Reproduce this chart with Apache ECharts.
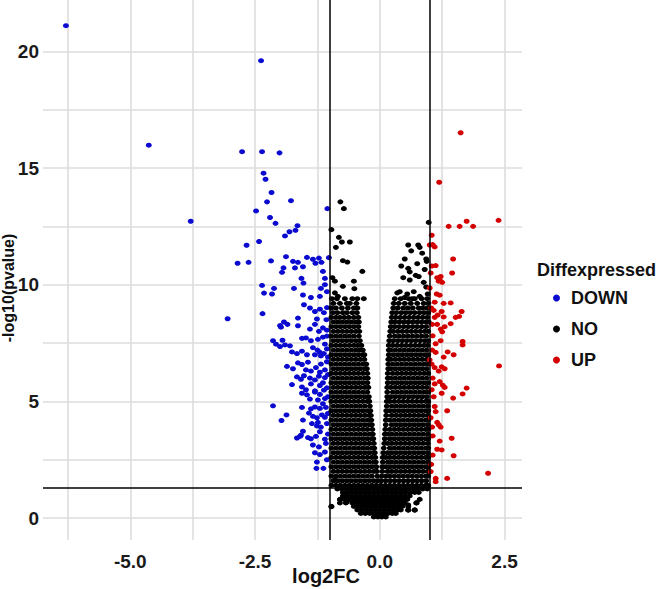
<!DOCTYPE html>
<html>
<head>
<meta charset="utf-8">
<script src="https://cdn.jsdelivr.net/npm/echarts@6/dist/echarts.min.js"></script>
<style>
html,body{margin:0;padding:0;background:#fff;}
#chart{width:661px;height:589px;}
</style>
</head>
<body>
<div id="chart"></div>
<script>
// ---- axis / tick values ----
const xTickLabels = [-5, -2.5, 0, 2.5];
const yTickLabels = [0, 5, 10, 15, 20];
const xGridValues = [-6.25, -5, -3.75, -2.5, -1.25, 0, 1.25, 2.5];
const yGridValues = [0, 2.5, 5, 7.5, 10, 12.5, 15, 17.5, 20];
const fcCutoffs = [-1, 1];
const pCutoff = 1.30;
const categories = ['DOWN', 'NO', 'UP'];

// ---- DOWN (blue) points [log2FC, -log10(p)] ----
const downPoints = [
[-6.29,21.1],[-2.38,19.6],[-4.63,15.98],[-2.76,15.7],[-2.36,15.7],[-2.01,15.65],[-2.33,14.78],[-2.29,14.52],
[-2.17,13.95],[-2.26,13.55],[-1.78,13.6],[-2.48,13.16],[-3.79,12.72],[-2.2,12.88],[-2.09,12.63],[-1.05,13.26],
[-1.65,12.53],[-1.69,12.33],[-1.81,12.27],[-1.9,12.09],[-2.67,11.69],[-2.42,11.85],[-2.85,10.92],[-2.63,10.96],
[-2.18,11.02],[-1.88,11.2],[-1.74,11.0],[-1.64,10.96],[-1.46,11.17],[-1.34,11.09],[-1.22,11.14],[-1.29,10.92],
[-1.17,10.96],[-1.02,11.16],[-1.93,10.72],[-1.7,10.72],[-1.54,10.77],[-1.96,10.53],[-1.14,10.57],[-1.57,10.27],
[-1.1,10.27],[-1.53,10.07],[-2.36,9.97],[-2.12,9.84],[-1.72,9.84],[-1.18,9.84],[-2.32,9.64],[-2.16,9.6],
[-1.54,9.56],[-1.38,9.45],[-1.2,9.5],[-1.06,9.7],[-1.1,10.0],
[-2.35,8.76],[-3.05,8.54],[-1.52,9.14],[-1.4,9.0],[-1.3,8.85],[-1.2,8.95],[-1.12,8.8],[-1.06,9.02],[-1.64,8.57],
[-1.26,8.53],[-1.07,8.5],[-2.0,8.25],[-1.92,8.4],[-1.85,8.3],[-1.98,8.18],[-1.64,8.24],[-1.4,8.1],[-1.22,8.0],
[-1.14,8.15],[-1.06,8.05],[-1.3,8.3],
[-2.14,7.6],[-1.95,7.62],[-2.08,7.45],[-2.0,7.35],[-1.9,7.42],[-1.8,7.38],[-1.56,7.7],[-1.48,7.72],[-1.38,7.6],
[-1.24,7.66],[-1.14,7.75],[-1.06,7.8],[-1.34,7.3],[-1.25,7.2],[-1.2,7.1],[-1.3,7.0],[-1.18,6.95],[-1.12,7.05],
[-1.06,7.25],[-1.76,7.12],[-1.66,7.05],[-1.56,7.15],[-1.46,7.0],[-1.1,7.45],[-1.04,6.9],
[-1.86,6.5],[-1.74,6.4],[-1.64,6.65],[-1.56,6.58],[-1.44,6.68],[-1.48,6.35],[-1.38,6.3],[-1.28,6.45],[-1.18,6.6],
[-1.06,6.7],[-1.1,6.35],[-1.2,6.25],
[-1.66,6.05],[-1.58,5.95],[-1.52,6.1],[-1.4,6.0],[-1.3,5.92],[-1.22,6.08],[-1.1,6.02],[-1.04,6.15],
[-1.76,5.72],[-1.56,5.62],[-1.48,5.5],[-1.38,5.75],[-1.3,5.45],[-1.2,5.68],[-1.06,5.58],[-1.14,5.8],
[-1.56,5.35],[-1.46,5.28],[-1.4,5.1],[-1.3,5.4],[-1.2,5.3],[-1.12,5.48],[-1.04,5.2],[-1.24,5.06],[-1.1,5.12],
[-2.14,4.81],[-1.56,4.74],[-1.38,4.68],[-1.3,4.76],[-1.2,4.7],[-1.08,4.74],[-1.14,4.9],
[-1.42,4.5],[-1.34,4.36],[-1.26,4.3],[-1.16,4.42],[-1.1,4.32],[-1.04,4.48],[-1.87,4.42],[-1.97,4.18],[-1.54,4.2],
[-1.36,4.05],[-1.26,3.95],[-1.18,3.9],[-1.24,4.1],[-1.06,4.05],
[-1.54,3.72],[-1.58,3.55],[-1.66,3.43],[-1.6,3.5],[-1.44,3.45],[-1.38,3.4],[-1.28,3.5],[-1.2,3.7],[-1.1,3.38],[-1.04,3.6],
[-1.34,3.13],[-1.22,3.05],[-1.08,3.2],[-1.3,2.8],[-1.2,2.72],[-1.1,2.83],[-1.26,2.4],[-1.06,2.5],[-1.27,2.13],[-1.13,2.13]
];

// ---- UP (red) points ----
const upPoints = [
[1.62,16.51],[1.19,14.39],[1.38,12.5],[1.6,12.5],[1.74,12.72],[1.87,12.5],[2.38,12.76],[1.04,12.12],[1.0,11.7],
[1.1,11.62],[1.06,11.72],[1.47,11.1],[1.04,10.8],[1.12,10.82],[1.45,10.5],[1.15,10.3],[1.2,10.2],[1.25,10.1],
[1.18,10.15],[1.22,10.35],[1.0,9.86],[1.14,9.6],[1.2,9.55],[1.28,9.2],[1.42,9.22],[1.1,9.25],[1.64,8.85],[1.59,8.64],
[1.24,8.85],[1.16,8.7],[1.28,8.62],[1.1,8.6],[1.52,8.6],[1.05,8.3],[1.15,8.3],[1.22,8.1],[1.3,8.2],[1.42,8.33],
[1.25,7.98],[1.06,7.81],[1.12,7.47],[1.22,7.6],[1.66,7.57],[1.66,7.42],[1.12,7.1],[1.28,6.9],[1.36,7.12],[1.48,7.0],
[1.0,6.78],[2.39,6.52],[1.1,6.45],[1.18,6.3],[1.3,6.4],[1.24,6.48],[1.06,6.0],[1.1,5.75],[1.2,5.85],[1.3,5.6],
[1.26,5.7],[1.74,5.57],[1.66,5.32],[1.47,5.14],[1.24,5.35],[1.08,5.2],[1.1,4.78],[1.12,4.56],[1.35,4.6],[1.15,4.1],
[1.22,3.9],[1.18,4.0],[1.06,3.52],[1.44,3.42],[1.2,3.3],[1.15,2.95],[1.24,2.92],[1.48,2.67],[1.06,2.7],[1.02,1.99],
[2.17,1.92],[1.12,1.7],[1.12,1.56],[1.35,1.7],[1.03,9.0],[1.05,7.2],[1.04,5.5],[1.02,4.3],[1.05,3.9],[1.03,2.3],
[1.08,8.9],[1.02,10.5],[1.04,6.6]
];

// ---- NO (black) points: dense cloud, rows of [-log10(p), [log2FC ...]] ----
const noRows = [
[0.05,[-0.12,-0.04,0.04,0.12]],
[0.2,[-0.38,-0.29,-0.2,-0.11,-0.02,0.07,0.16,0.25,0.32]],
[0.35,[-0.45,-0.36,-0.27,-0.18,-0.09,0,0.09,0.18,0.27,0.36,0.42,0.57,0.7]],
[0.5,[-0.97,-0.52,-0.43,-0.34,-0.25,-0.16,-0.07,0.02,0.11,0.2,0.29,0.38,0.45,0.57]],
[0.65,[-0.8,-0.68,-0.55,-0.46,-0.37,-0.28,-0.19,-0.1,-0.01,0.08,0.17,0.26,0.35,0.44,0.5,0.73]],
[0.8,[-0.79,-0.71,-0.6,-0.51,-0.42,-0.33,-0.24,-0.15,-0.06,0.03,0.12,0.21,0.3,0.39,0.48,0.55,0.8]],
[0.95,[-0.74,-0.66,-0.57,-0.48,-0.39,-0.3,-0.21,-0.12,-0.03,0.06,0.15,0.24,0.33,0.42,0.51,0.6]],
[1.1,[-0.74,-0.65,-0.56,-0.47,-0.38,-0.29,-0.2,-0.11,-0.02,0.07,0.16,0.25,0.34,0.43,0.52,0.61,0.7,0.78]],
[1.25,[-0.85,-0.76,-0.67,-0.58,-0.49,-0.4,-0.31,-0.22,-0.13,-0.04,0.05,0.14,0.23,0.32,0.41,0.5,0.59,0.68,0.77,0.86,0.95]],
[1.4,[-0.97,-0.88,-0.79,-0.7,-0.61,-0.52,-0.43,-0.34,-0.25,-0.16,-0.07,0.02,0.11,0.2,0.29,0.38,0.47,0.56,0.65,0.74,0.83,0.92,0.97]],
[1.6,[-0.93,-0.84,-0.75,-0.66,-0.57,-0.48,-0.39,-0.3,-0.21,-0.12,-0.04,0.03,0.12,0.21,0.3,0.39,0.48,0.57,0.66,0.75,0.84,0.93]],
[1.8,[-0.97,-0.88,-0.79,-0.7,-0.61,-0.52,-0.43,-0.34,-0.25,-0.16,-0.05,0.04,0.12,0.2,0.29,0.38,0.47,0.56,0.65,0.74,0.83,0.92,0.97]],
[2.0,[-0.93,-0.84,-0.75,-0.66,-0.57,-0.48,-0.39,-0.3,-0.21,-0.12,-0.06,0.05,0.16,0.24,0.33,0.42,0.51,0.6,0.69,0.78,0.87,0.96]],
[2.2,[-0.97,-0.88,-0.79,-0.7,-0.61,-0.52,-0.43,-0.34,-0.25,-0.16,-0.07,0.05,0.12,0.2,0.29,0.38,0.47,0.56,0.65,0.74,0.83,0.92,0.97]],
[2.4,[-0.93,-0.84,-0.75,-0.66,-0.57,-0.48,-0.39,-0.3,-0.21,-0.12,-0.08,0.06,0.16,0.24,0.33,0.42,0.51,0.6,0.69,0.78,0.87,0.96]],
[2.6,[-0.97,-0.88,-0.79,-0.7,-0.61,-0.52,-0.43,-0.34,-0.25,-0.16,-0.09,0.06,0.12,0.2,0.29,0.38,0.47,0.56,0.65,0.74,0.83,0.92,0.97]],
[2.8,[-0.93,-0.84,-0.75,-0.66,-0.57,-0.48,-0.39,-0.3,-0.21,-0.12,-0.1,0.07,0.16,0.24,0.33,0.42,0.51,0.6,0.69,0.78,0.87,0.96]],
[3.0,[-0.97,-0.88,-0.79,-0.7,-0.61,-0.52,-0.43,-0.34,-0.25,-0.16,-0.11,0.08,0.2,0.29,0.38,0.47,0.56,0.65,0.74,0.83,0.92,0.97]],
[3.2,[-0.93,-0.84,-0.75,-0.66,-0.57,-0.48,-0.39,-0.3,-0.21,-0.12,0.09,0.16,0.24,0.33,0.42,0.51,0.6,0.69,0.78,0.87,0.96]],
[3.4,[-0.97,-0.88,-0.79,-0.7,-0.61,-0.52,-0.43,-0.34,-0.25,-0.16,-0.13,0.1,0.2,0.29,0.38,0.47,0.56,0.65,0.74,0.83,0.92,0.97]],
[3.6,[-0.93,-0.84,-0.75,-0.66,-0.57,-0.48,-0.39,-0.3,-0.21,-0.14,0.1,0.16,0.24,0.33,0.42,0.51,0.6,0.69,0.78,0.87,0.96]],
[3.8,[-0.97,-0.88,-0.79,-0.7,-0.61,-0.52,-0.43,-0.34,-0.25,-0.15,0.11,0.2,0.29,0.38,0.47,0.56,0.65,0.74,0.83,0.92,0.97]],
[4.0,[-0.93,-0.84,-0.75,-0.66,-0.57,-0.48,-0.39,-0.3,-0.21,-0.16,0.12,0.24,0.33,0.42,0.51,0.6,0.69,0.78,0.87,0.96]],
[4.2,[-0.97,-0.88,-0.79,-0.7,-0.61,-0.52,-0.43,-0.34,-0.25,-0.17,0.12,0.2,0.29,0.38,0.47,0.56,0.65,0.74,0.83,0.92,0.97]],
[4.4,[-0.93,-0.84,-0.75,-0.66,-0.57,-0.48,-0.39,-0.3,-0.21,-0.18,0.13,0.24,0.33,0.42,0.51,0.6,0.69,0.78,0.87,0.96]],
[4.6,[-0.97,-0.88,-0.79,-0.7,-0.61,-0.52,-0.43,-0.34,-0.25,-0.19,0.13,0.2,0.29,0.38,0.47,0.56,0.65,0.74,0.83,0.92,0.97]],
[4.8,[-0.93,-0.84,-0.75,-0.66,-0.57,-0.48,-0.39,-0.3,-0.2,0.14,0.24,0.33,0.42,0.51,0.6,0.69,0.78,0.87,0.96]],
[5.0,[-0.97,-0.88,-0.79,-0.7,-0.61,-0.52,-0.43,-0.34,-0.25,-0.21,0.14,0.2,0.29,0.38,0.47,0.56,0.65,0.74,0.83,0.92,0.97]],
[5.2,[-0.93,-0.84,-0.75,-0.66,-0.57,-0.48,-0.39,-0.3,-0.22,0.15,0.22,0.31,0.4,0.49,0.58,0.67,0.76,0.85,0.94]],
[5.4,[-0.97,-0.88,-0.79,-0.7,-0.61,-0.52,-0.43,-0.34,-0.25,0.15,0.26,0.35,0.44,0.53,0.62,0.71,0.8,0.89,0.97]],
[5.6,[-0.93,-0.84,-0.75,-0.66,-0.57,-0.48,-0.39,-0.3,-0.23,0.15,0.22,0.31,0.4,0.49,0.58,0.67,0.76,0.85,0.94]],
[5.8,[-0.97,-0.88,-0.79,-0.7,-0.61,-0.52,-0.43,-0.34,-0.25,0.16,0.26,0.35,0.44,0.53,0.62,0.71,0.8,0.89,0.97]],
[6.0,[-0.93,-0.84,-0.75,-0.66,-0.57,-0.48,-0.39,-0.3,-0.24,0.16,0.22,0.31,0.4,0.49,0.58,0.67,0.76,0.85,0.94]],
[6.2,[-0.97,-0.88,-0.79,-0.7,-0.61,-0.52,-0.43,-0.34,-0.25,0.16,0.26,0.35,0.44,0.53,0.62,0.71,0.8,0.89,0.97]],
[6.4,[-0.93,-0.84,-0.75,-0.66,-0.57,-0.48,-0.39,-0.3,-0.26,0.17,0.22,0.31,0.4,0.49,0.58,0.67,0.76,0.85,0.94]],
[6.6,[-0.97,-0.88,-0.79,-0.7,-0.61,-0.52,-0.43,-0.34,-0.27,0.17,0.26,0.35,0.44,0.53,0.62,0.71,0.8,0.89,0.97]],
[6.8,[-0.93,-0.84,-0.75,-0.66,-0.57,-0.48,-0.39,-0.31,0.17,0.22,0.31,0.4,0.49,0.58,0.67,0.76,0.85,0.94]],
[7.0,[-0.97,-0.88,-0.79,-0.7,-0.61,-0.52,-0.43,-0.34,-0.31,0.18,0.27,0.36,0.45,0.54,0.63,0.72,0.81,0.9,0.97]],
[7.2,[-0.93,-0.84,-0.75,-0.66,-0.57,-0.48,-0.4,-0.34,0.18,0.22,0.31,0.4,0.49,0.58,0.67,0.76,0.85,0.94]],
[7.4,[-0.97,-0.88,-0.79,-0.7,-0.61,-0.52,-0.44,-0.37,0.18,0.26,0.35,0.44,0.53,0.62,0.71,0.8,0.89,0.96]],
[7.6,[-0.93,-0.84,-0.75,-0.66,-0.57,-0.48,-0.4,0.19,0.27,0.36,0.45,0.54,0.63,0.72,0.81,0.9,0.97]],
[7.8,[-0.97,-0.88,-0.79,-0.7,-0.61,-0.52,-0.42,0.2,0.3,0.39,0.48,0.57,0.66,0.75,0.84,0.93]],
[8.0,[-0.93,-0.84,-0.75,-0.66,-0.57,-0.48,-0.41,0.21,0.27,0.36,0.45,0.54,0.63,0.72,0.81,0.9,0.97]],
[8.2,[-0.97,-0.88,-0.79,-0.7,-0.61,-0.52,-0.43,0.22,0.3,0.39,0.48,0.57,0.66,0.75,0.84,0.93]],
[8.4,[-0.93,-0.84,-0.75,-0.66,-0.57,-0.48,-0.42,0.23,0.3,0.39,0.48,0.57,0.66,0.75,0.84,0.93,0.98]],
[8.6,[-0.97,-0.88,-0.8,-0.71,-0.62,-0.52,-0.43,0.24,0.32,0.41,0.5,0.59,0.68,0.77,0.86,0.95]],
[8.8,[-0.94,-0.85,-0.74,-0.66,-0.55,-0.46,0.25,0.33,0.43,0.52,0.61,0.7,0.8,0.89,0.97]],
[9.0,[-0.97,-0.88,-0.76,-0.64,-0.52,-0.45,0.27,0.36,0.47,0.56,0.66,0.78,0.86,0.95]],
[9.2,[-0.93,-0.8,-0.66,-0.6,-0.47,0.28,0.38,0.5,0.62,0.75,0.88,0.97]],
[9.4,[-0.96,-0.86,-0.7,-0.55,-0.45,0.3,0.42,0.58,0.7,0.84,0.95]]
];
// scattered NO points outside the dense cloud
const noExtra = [
[-0.79,13.55],[-0.72,13.26],[-0.97,12.36],[-0.82,12.03],[-0.76,11.83],[-0.6,11.83],[-0.88,11.6],[-0.74,11.03],
[-0.65,10.97],[-0.35,10.57],[-0.95,10.3],[-0.9,10.15],[-0.74,9.93],[-0.52,10.15],[-0.51,9.83],[-0.9,9.65],
[-0.84,9.5],[-0.32,9.4],
[0.98,12.67],[0.57,11.7],[0.63,11.45],[0.77,11.7],[0.8,11.6],[0.85,11.35],[0.93,11.1],[0.5,11.1],[0.43,10.8],
[0.57,10.7],[0.6,10.55],[0.75,10.9],[0.9,10.65],[0.94,11.0],[0.47,10.3],[0.6,10.2],[0.78,10.35],[0.72,10.4],
[0.88,10.1],[0.4,9.7],[0.55,9.6],[0.68,9.7],[0.8,9.5],[0.96,9.6],[0.35,9.65],[0.5,9.45],[0.65,9.4],[0.93,9.9],
[-0.97,0.49],[-0.8,0.8],[-0.7,0.86],[-0.66,0.7],[-0.9,1.63],[0.57,0.56],[0.7,0.34],[0.57,0.34],[0.74,0.65]
];

// ---- build series data ----
const noPoints = [];
noRows.forEach(function (row) { row[1].forEach(function (x) { noPoints.push([x, row[0]]); }); });
noExtra.forEach(function (p) { noPoints.push(p); });

const FONT = '"Liberation Sans", Arial, sans-serif';
const colors = { DOWN: '#0a0ad0', NO: '#000000', UP: '#d40000' };
const pointSize = [6, 5];

const chart = echarts.init(document.getElementById('chart'), null, { renderer: 'svg' });

const gridLines = [];
xGridValues.forEach(function (v) { gridLines.push({ xAxis: v }); });
yGridValues.forEach(function (v) { gridLines.push({ yAxis: v }); });
const thrLines = [];
fcCutoffs.forEach(function (v) { thrLines.push({ xAxis: v }); });
thrLines.push({ yAxis: pCutoff });

function pointSeries(name, data) {
  return { name: name, type: 'scatter', data: data, z: 3, symbol: 'circle', symbolSize: pointSize,
    itemStyle: { color: colors[name], opacity: 1 } };
}

chart.setOption({
  animation: false,
  backgroundColor: '#ffffff',
  grid: { left: 43, right: 139, top: 0, bottom: 49 },
  xAxis: {
    type: 'value', min: -6.75, max: 2.85,
    axisLine: { show: false }, axisTick: { show: false }, splitLine: { show: false },
    axisLabel: {
      customValues: xTickLabels, margin: 12,
      formatter: function (v) { return Number(v).toFixed(1); },
      fontFamily: FONT, fontWeight: 'bold', fontSize: 19, color: '#1a1a1a'
    }
  },
  yAxis: {
    type: 'value', min: -0.94, max: 22.2,
    axisLine: { show: false }, axisTick: { show: false }, splitLine: { show: false },
    axisLabel: {
      customValues: yTickLabels, margin: 4,
      fontFamily: FONT, fontWeight: 'bold', fontSize: 19, color: '#1a1a1a'
    }
  },
  legend: {
    data: categories, orient: 'vertical', left: 553, top: 288, padding: 0,
    icon: 'circle', itemWidth: 7, itemHeight: 7, itemGap: 11,
    itemStyle: { opacity: 1 },
    textStyle: { fontFamily: FONT, fontWeight: 'bold', fontSize: 18, color: '#111', lineHeight: 20, padding: [0, 0, 0, 6] }
  },
  graphic: [
    { type: 'text', left: 537, top: 261, style: { text: 'Diffexpressed', fontFamily: FONT, fontWeight: 'bold', fontSize: 18, fill: '#111' } },
    { type: 'text', x: 326, y: 576, style: { text: 'log2FC', fontFamily: FONT, fontWeight: 'bold', fontSize: 20, fill: '#111', align: 'center', verticalAlign: 'middle' } },
    { type: 'text', x: 8, y: 288, rotation: Math.PI / 2, style: { text: '-log10(pvalue)', fontFamily: FONT, fontWeight: 'bold', fontSize: 16, fill: '#111', align: 'center', verticalAlign: 'middle' } }
  ],
  series: [
    {
      name: 'gridlines', type: 'scatter', data: [], z: 1, silent: true,
      markLine: { z: 1, silent: true, symbol: ['none', 'none'], label: { show: false },
        lineStyle: { color: '#dcdcdc', width: 1.6, type: 'solid' }, data: gridLines }
    },
    pointSeries('DOWN', downPoints),
    pointSeries('NO', noPoints),
    pointSeries('UP', upPoints),
    {
      name: 'thresholds', type: 'scatter', data: [], z: 5, silent: true,
      markLine: { z: 5, silent: true, symbol: ['none', 'none'], label: { show: false },
        lineStyle: { color: '#000000', width: 1.5, type: 'solid' }, data: thrLines }
    }
  ]
});
</script>
</body>
</html>
